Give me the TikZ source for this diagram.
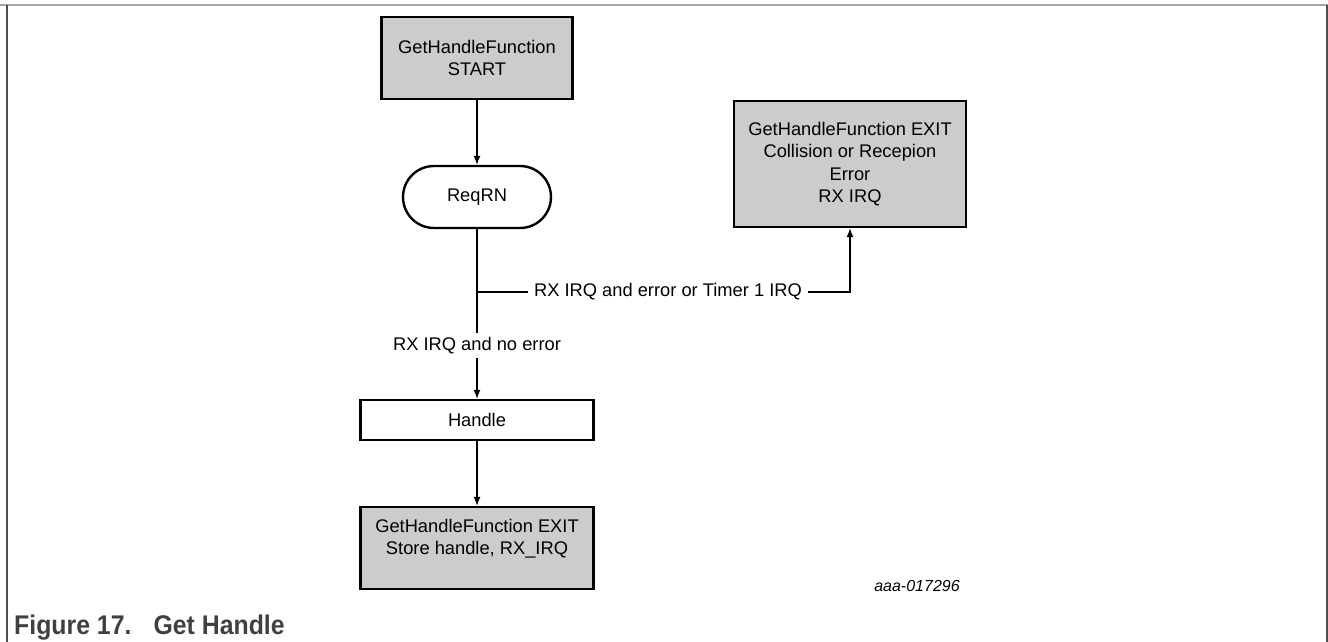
\documentclass[tikz,border=0pt]{standalone}
\usepackage{fontspec}
\setmainfont{Liberation Sans}
\newfontfamily\capfont[FakeStretch=0.92]{Liberation Sans}
\usetikzlibrary{arrows.meta,shapes.misc}
\definecolor{boxgray}{HTML}{CCCCCC}
\definecolor{capgray}{HTML}{404040}

\begin{document}
\begin{tikzpicture}[x=1pt,y=-1pt,
	>={Latex[length=9pt,width=7pt]},
	every node/.style={font=\fontsize{18.3}{22.5}\selectfont, align=center, inner sep=0pt},
	endbox/.style={draw, line width=2.4pt, fill=boxgray, rectangle},
	procbox/.style={draw, line width=2.4pt, fill=white, rectangle},
	cmdbox/.style={draw, line width=2.4pt, rounded rectangle},
	flow/.style={line width=1.2pt},
	lbl/.style={fill=white, inner xsep=6pt, inner ysep=4pt}]

	\useasboundingbox (0,0) rectangle (1328,642);

	\draw[gray!70, line width=2pt] (0,5) -- (1328,5);
	\draw[black!70, line width=1.5pt] (7,5) -- (7,642);
	\draw[black!70, line width=1.5pt] (1327,5) -- (1327,642);

	\node[endbox, minimum width=191pt, minimum height=82pt] (start) at (477,58) {GetHandleFunction\\START};
	\node[cmdbox, minimum width=148pt, minimum height=62pt] (reqrn) at (477,197) {ReqRN};
	\node[endbox, minimum width=232pt, minimum height=126pt] (exiterr) at (850,164) {GetHandleFunction EXIT\\Collision or Recepion\\Error\\RX IRQ};
	\node[procbox, minimum width=233pt, minimum height=40pt] (handle) at (477,420) {Handle};
	\node[endbox, minimum width=233pt, minimum height=82pt] (exitok) at (477,548) {GetHandleFunction EXIT\\Store handle, RX\_IRQ\\ \mbox{}};

	\coordinate (split) at (477,292);

	\draw[flow,->] (start) -- (reqrn);
	\draw[flow] (reqrn) -- (split);
	\draw[flow,->] (split) -- node[lbl] {RX IRQ and no error} (handle);
	\draw[flow,->] (split) -| node[lbl, pos=0.256] {RX IRQ and error or Timer 1 IRQ} (exiterr);
	\draw[flow,->] (handle) -- (exitok);

	\node[font=\itshape\fontsize{16}{19}\selectfont] (docnum) at (917,586) {aaa-017296};
	\node[anchor=base west, font=\capfont\bfseries\fontsize{27}{30}\selectfont, text=capgray] (caption) at (14,634) {Figure 17.\hspace{22pt}Get Handle};

\end{tikzpicture}
\end{document}
